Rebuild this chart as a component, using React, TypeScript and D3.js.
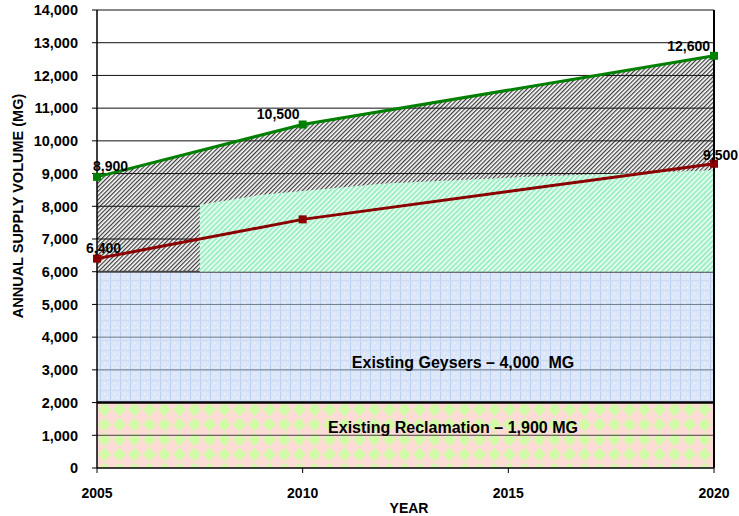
import React from "react";
import * as d3 from "d3";

const years = [2005, 2010, 2020];
const supplyValues = [8900, 10500, 12600];
const supplyLabels = ["8,900", "10,500", "12,600"];
const demandValues = [6400, 7600, 9300];
const demandLabels = ["6,400", "", "9,500"];
const mintYears = [2007.5, 2009, 2012, 2015.5, 2020];
const mintValues = [8050, 8350, 8700, 8900, 9100];
const reclamationBand = [0, 2000];
const geysersBand = [2000, 6000];
const yTicks = [0, 1000, 2000, 3000, 4000, 5000, 6000, 7000, 8000, 9000, 10000, 11000, 12000, 13000, 14000];
const xTicks = [2005, 2010, 2015, 2020];
const reclamationText = "Existing Reclamation \u2013 1,900 MG";
const geysersText = "Existing Geysers \u2013 4,000  MG";

const W = 739, H = 516;
const x = d3.scaleLinear().domain([2005, 2020]).range([97, 714]);
const y = d3.scaleLinear().domain([0, 14000]).range([468, 10]);
const FONT = "'Liberation Sans', Arial, sans-serif";

const supplyOff = [{ dx: -4, dy: -6, a: "start" }, { dx: -3, dy: -6, a: "end" }, { dx: -4, dy: -5, a: "end" }];
const demandOff = [{ dx: -11, dy: -6, a: "start" }, { dx: 0, dy: 0, a: "start" }, { dx: -11, dy: -4, a: "start" }];

export default function App() {
  const line = d3.line<number>().x((_, i) => x(years[i])).y((d) => y(d));
  const x0 = x(2005), x1 = x(2020);
  const hatchArea = d3
    .area<number>()
    .x((_, i) => x(years[i]))
    .y0(y(geysersBand[1]))
    .y1((d) => y(d));
  const mintArea = d3
    .area<number>()
    .x((_, i) => x(mintYears[i]))
    .y0(y(geysersBand[1]))
    .y1((d) => y(d));

  return (
    <svg width={W} height={H} style={{ position: "absolute", left: 0, top: 0, background: "#fff" }} fontFamily={FONT}>
      <defs>
        <pattern id="hatch" width="3" height="3" patternUnits="userSpaceOnUse" patternTransform="rotate(45)">
          <rect width="3" height="3" fill="#ffffff" />
          <rect width="1.25" height="3" fill="#3c3c3c" />
        </pattern>
        <pattern id="mint" width="3.6" height="3.6" patternUnits="userSpaceOnUse" patternTransform="rotate(45)">
          <rect width="3.6" height="3.6" fill="#ffffff" />
          <rect width="2.3" height="3.6" fill="#9cf0c4" />
        </pattern>
        <pattern id="blue" width="10" height="10" patternUnits="userSpaceOnUse">
          <rect width="10" height="10" fill="#dbe7f9" />
          <rect x="0" y="0" width="1" height="10" fill="#bcd0ef" />
          <rect x="0" y="0" width="10" height="1" fill="#cddbf2" />
          <rect x="4" y="3" width="1" height="1" fill="#ffffff" />
          <rect x="7" y="7" width="1" height="1" fill="#ffffff" />
          <rect x="2" y="7" width="1" height="1" fill="#f2f6fc" />
        </pattern>
        <pattern id="pink" width="15" height="15" patternUnits="userSpaceOnUse" x="97" y="402">
          <rect width="15" height="15" fill="#fddcd6" />
          <path d="M7.5 0.5 L14 7.5 L7.5 14.5 L1 7.5 Z" fill="#d2fba8" />
        </pattern>
      </defs>

      {/* bands */}
      <rect x={x0} y={y(reclamationBand[1])} width={x1 - x0} height={y(reclamationBand[0]) - y(reclamationBand[1])} fill="url(#pink)" />
      <rect x={x0} y={y(geysersBand[1])} width={x1 - x0} height={y(geysersBand[0]) - y(geysersBand[1])} fill="url(#blue)" />
      <path d={hatchArea(supplyValues) || ""} fill="url(#hatch)" />

      {/* gridlines */}
      {yTicks.filter((t) => t > 0).map((t) => {
        const inBlue = t > geysersBand[0] && t < geysersBand[1];
        const stroke = t === reclamationBand[1] ? "#000" : inBlue ? "#6f7886" : t === 1000 ? "#444" : t === geysersBand[1] ? "#444" : "#111";
        const sw = t === reclamationBand[1] ? 2.5 : t === geysersBand[1] ? 2 : 1;
        return <line key={t} x1={x0} x2={x1} y1={y(t)} y2={y(t)} stroke={stroke} strokeWidth={sw} />;
      })}

      <path d={mintArea(mintValues) || ""} fill="url(#mint)" />

      {/* axes */}
      <line x1={x0} x2={x0} y1={y(14000)} y2={y(0)} stroke="#000" strokeWidth={1.5} />
      <line x1={x1} x2={x1} y1={y(14000)} y2={y(0)} stroke="#000" strokeWidth={2} />
      <line x1={x0} x2={x1} y1={y(0)} y2={y(0)} stroke="#000" strokeWidth={1.5} />
      {yTicks.map((t) => (
        <g key={t}>
          <line x1={x0 - 5} x2={x0} y1={y(t)} y2={y(t)} stroke="#000" />
          <text x={78} y={y(t)} dy="0.36em" textAnchor="end" fontSize={14.5} fontWeight="bold">
            {d3.format(",")(t)}
          </text>
        </g>
      ))}
      {xTicks.map((t) => (
        <g key={t}>
          <line x1={x(t)} x2={x(t)} y1={y(0)} y2={y(0) + 5} stroke="#000" />
          <text x={x(t)} y={498} textAnchor="middle" fontSize={14} fontWeight="bold">
            {t}
          </text>
        </g>
      ))}
      <text x={409} y={513} textAnchor="middle" fontSize={14} fontWeight="bold">YEAR</text>
      <text transform={`translate(23,${206}) rotate(-90)`} textAnchor="middle" fontSize={14.5} fontWeight="bold">
        ANNUAL SUPPLY VOLUME (MG)
      </text>

      {/* band labels */}
      <text x={463} y={368} textAnchor="middle" fontSize={16} fontWeight="bold" style={{ whiteSpace: "pre" }}>{geysersText}</text>
      <text x={453} y={433} textAnchor="middle" fontSize={16} fontWeight="bold">{reclamationText}</text>

      {/* lines */}
      <path d={line(demandValues) || ""} fill="none" stroke="#8b0000" strokeWidth={3} />
      <path d={line(supplyValues) || ""} fill="none" stroke="#008000" strokeWidth={3} />
      {demandValues.map((v, i) => (
        <rect key={"d" + i} x={x(years[i]) - 4} y={y(v) - 4} width={8} height={8} fill="#8b0000" />
      ))}
      {supplyValues.map((v, i) => (
        <rect key={"s" + i} x={x(years[i]) - 4} y={y(v) - 4} width={8} height={8} fill="#008000" />
      ))}
      {supplyValues.map((v, i) => (
        <text key={"sl" + i} x={x(years[i]) + supplyOff[i].dx} y={y(v) + supplyOff[i].dy} textAnchor={supplyOff[i].a} fontSize={14} fontWeight="bold">
          {supplyLabels[i]}
        </text>
      ))}
      {demandValues.map((v, i) =>
        demandLabels[i] ? (
          <text key={"dl" + i} x={x(years[i]) + demandOff[i].dx} y={y(v) + demandOff[i].dy} textAnchor={demandOff[i].a} fontSize={14} fontWeight="bold">
            {demandLabels[i]}
          </text>
        ) : null
      )}
    </svg>
  );
}
